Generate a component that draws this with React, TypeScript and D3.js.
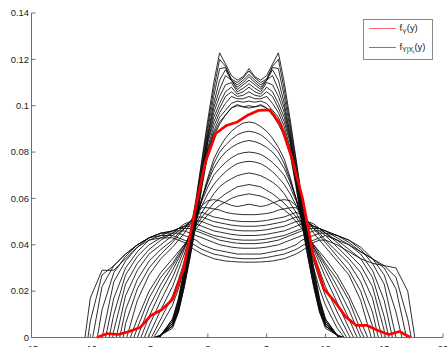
import React from "react";
import * as d3 from "d3";

const W = 448;
const H = 347;

// common abscissa grid for the conditional densities
const gridX = [-10, -9, -8, -7, -6, -5, -4, -3, -2.5, -2, -1.5, -1, -0.5, 0, 0.5, 1, 1.5, 2, 2.5, 3, 3.5, 4, 4.5, 5, 5.5, 6, 6.5, 7, 7.5, 8, 8.5, 9, 9.5, 10, 11, 12, 13, 14, 15, 16, 17];

// wide, bowl-shaped conditional densities
const bowlLo = [-10.45, -10.2, -9.8, -9.4, -9.0, -8.7, -8.4, -8.1, -7.8, -7.5, -7.2, -6.9];
const bowlHi = [17.6, 17.3, 16.9, 16.5, 16.0, 15.7, 15.4, 15.1, 14.8, 14.5, 14.2, 13.9];
const bowlCurves = [
  [.017,.029,.029,.034,.039,.042,.043,.043,.042,.041,.039,.0375,.036,.035,.034,.0335,.033,.0328,.0326,.0325,.0325,.0325,.0326,.0328,.033,.0335,.034,.035,.036,.0375,.039,.041,.042,.042,.040,.037,.034,.032,.031,.030,.020],
  [.007,.027,.031,.036,.040,.043,.044,.044,.043,.042,.041,.0395,.038,.037,.036,.0355,.035,.0345,.0342,.034,.034,.034,.0342,.0345,.035,.0355,.036,.037,.038,.0395,.041,.042,.043,.044,.042,.040,.037,.034,.031,.026,.008],
  [0,.022,.031,.036,.040,.043,.045,.045,.045,.044,.043,.042,.040,.039,.038,.0375,.037,.0365,.036,.036,.036,.036,.036,.0365,.037,.0375,.038,.039,.040,.042,.043,.044,.045,.045,.044,.041,.037,.034,.030,.021,0],
  [0,.012,.028,.035,.040,.043,.045,.046,.046,.046,.045,.044,.043,.042,.041,.040,.0395,.039,.0387,.0385,.0385,.0385,.0387,.039,.0395,.040,.041,.042,.043,.044,.045,.046,.046,.046,.044,.042,.039,.034,.027,.011,0],
  [0,0,.024,.033,.039,.043,.045,.046,.047,.047,.047,.046,.045,.044,.043,.042,.0415,.041,.0407,.0405,.0405,.0405,.0407,.041,.0415,.042,.043,.044,.045,.046,.047,.047,.047,.046,.044,.042,.038,.032,.023,0,0],
  [0,0,.017,.030,.037,.042,.044,.046,.047,.048,.048,.047,.046,.045,.044,.0435,.043,.0425,.0422,.042,.042,.042,.0422,.0425,.043,.0435,.044,.045,.046,.047,.048,.048,.047,.046,.043,.040,.036,.029,.016,0,0],
  [0,0,.010,.027,.035,.040,.043,.045,.047,.048,.049,.049,.048,.047,.046,.0455,.045,.0445,.0442,.044,.044,.044,.0442,.0445,.045,.0455,.046,.047,.048,.049,.049,.048,.047,.045,.042,.038,.034,.026,.009,0,0],
  [0,0,.003,.023,.032,.038,.042,.045,.047,.049,.050,.0505,.050,.049,.048,.0475,.047,.0465,.0462,.046,.046,.046,.0462,.0465,.047,.0475,.048,.049,.050,.0505,.050,.049,.047,.045,.041,.036,.031,.022,.003,0,0],
  [0,0,0,.018,.029,.036,.040,.044,.046,.048,.050,.052,.052,.051,.050,.0495,.049,.0485,.0482,.048,.048,.048,.0482,.0485,.049,.0495,.050,.051,.052,.052,.050,.048,.046,.044,.039,.034,.028,.017,0,0,0],
  [0,0,0,.012,.025,.033,.038,.042,.045,.047,.050,.053,.054,.053,.052,.0515,.051,.0505,.0502,.050,.050,.050,.0502,.0505,.051,.0515,.052,.053,.054,.053,.050,.047,.045,.042,.037,.032,.024,.011,0,0,0],
  [0,0,0,.006,.021,.030,.036,.041,.044,.047,.050,.054,.056,.056,.0555,.055,.054,.0535,.0532,.053,.053,.053,.0532,.0535,.054,.055,.0555,.056,.056,.054,.050,.047,.044,.041,.035,.029,.020,.005,0,0,0],
  [0,0,0,0,.016,.027,.034,.039,.042,.045,.049,.054,.057,.059,.0595,.059,.058,.057,.0565,.057,.0575,.057,.0565,.057,.058,.059,.0595,.059,.057,.054,.049,.045,.042,.039,.033,.027,.016,0,0,0,0],
];

// single-hump conditional densities
const humpLo = [-6.6, -6.3, -6.0, -5.7, -5.4, -5.1, -4.8, -4.6];
const humpHi = [13.6, 13.3, 13.0, 12.7, 12.4, 12.1, 11.8, 11.6];
const humpCurves = [
  [0,0,0,0,.008,.020,.028,.034,.037,.040,.043,.047,.050,.053,.055,.057,.0585,.060,.061,.0615,.062,.0615,.061,.060,.0585,.057,.055,.053,.050,.047,.043,.040,.037,.034,.027,.018,.007,0,0,0,0],
  [0,0,0,0,.004,.017,.026,.032,.036,.040,.044,.048,.052,.055,.058,.060,.062,.0635,.065,.0655,.066,.0655,.065,.0635,.062,.060,.058,.055,.052,.048,.044,.040,.036,.032,.025,.016,.003,0,0,0,0],
  [0,0,0,0,0,.013,.023,.031,.035,.039,.044,.049,.054,.058,.062,.065,.067,.0685,.0698,.0705,.071,.0705,.0698,.0685,.067,.065,.062,.058,.054,.049,.044,.039,.035,.031,.022,.012,0,0,0,0,0],
  [0,0,0,0,0,.009,.020,.029,.034,.039,.045,.051,.057,.062,.066,.069,.0715,.0735,.075,.0757,.076,.0757,.075,.0735,.0715,.069,.066,.062,.057,.051,.045,.039,.034,.029,.019,.008,0,0,0,0,0],
  [0,0,0,0,0,.005,.016,.026,.032,.038,.045,.052,.059,.065,.070,.073,.0755,.0775,.079,.0797,.080,.0797,.079,.0775,.0755,.073,.070,.065,.059,.052,.045,.038,.032,.026,.015,.004,0,0,0,0,0],
  [0,0,0,0,0,.001,.012,.022,.029,.036,.044,.052,.060,.067,.073,.077,.080,.082,.0835,.0845,.085,.0845,.0835,.082,.080,.077,.073,.067,.060,.052,.044,.036,.029,.022,.011,.001,0,0,0,0,0],
  [0,0,0,0,0,0,.008,.018,.025,.033,.042,.051,.060,.068,.075,.080,.083,.0855,.0875,.0885,.089,.0885,.0875,.0855,.083,.080,.075,.068,.060,.051,.042,.033,.025,.018,.007,0,0,0,0,0,0],
  [0,0,0,0,0,0,.005,.014,.021,.030,.040,.050,.060,.069,.077,.082,.086,.089,.091,.0925,.093,.0925,.091,.089,.086,.082,.077,.069,.060,.050,.040,.030,.021,.014,.004,0,0,0,0,0,0],
];

// narrow, multi-peaked conditional densities
const peakLo = [-4.6, -4.55, -4.5, -4.45, -4.4, -4.35, -4.3, -4.25, -4.2, -4.15, -4.1, -4.05];
const peakHi = [11.6, 11.55, 11.5, 11.45, 11.4, 11.35, 11.3, 11.25, 11.2, 11.15, 11.1, 11.05];
const peakCurves = [
  [0,0,0,0,0,0,.001,.008,.017,.030,.045,.060,.077,.094,.110,.1228,.118,.113,.111,.1125,.116,.1125,.111,.113,.118,.1228,.110,.094,.077,.060,.045,.030,.017,.008,.001,0,0,0,0,0,0],
  [0,0,0,0,0,0,.001,.008,.016,.029,.044,.059,.076,.092,.107,.120,.117,.1115,.110,.112,.115,.112,.110,.1115,.117,.120,.107,.092,.076,.059,.044,.029,.016,.008,.001,0,0,0,0,0,0],
  [0,0,0,0,0,0,.001,.007,.016,.028,.043,.058,.074,.090,.104,.116,.1165,.111,.109,.111,.1135,.111,.109,.111,.1165,.116,.104,.090,.074,.058,.043,.028,.016,.007,.001,0,0,0,0,0,0],
  [0,0,0,0,0,0,.001,.007,.015,.027,.042,.057,.073,.088,.101,.111,.1155,.111,.108,.110,.1125,.110,.108,.111,.1155,.111,.101,.088,.073,.057,.042,.027,.015,.007,.001,0,0,0,0,0,0],
  [0,0,0,0,0,0,.001,.006,.014,.026,.041,.056,.072,.087,.099,.107,.113,.111,.107,.109,.111,.109,.107,.111,.113,.107,.099,.087,.072,.056,.041,.026,.014,.006,.001,0,0,0,0,0,0],
  [0,0,0,0,0,0,.001,.006,.014,.026,.040,.055,.071,.086,.097,.104,.109,.110,.106,.1075,.1095,.1075,.106,.110,.109,.104,.097,.086,.071,.055,.040,.026,.014,.006,.001,0,0,0,0,0,0],
  [0,0,0,0,0,0,.001,.006,.013,.025,.039,.054,.070,.085,.095,.101,.106,.108,.105,.106,.108,.106,.105,.108,.106,.101,.095,.085,.070,.054,.039,.025,.013,.006,.001,0,0,0,0,0,0],
  [0,0,0,0,0,0,.001,.005,.013,.024,.038,.053,.069,.084,.093,.099,.104,.106,.104,.1045,.106,.1045,.104,.106,.104,.099,.093,.084,.069,.053,.038,.024,.013,.005,.001,0,0,0,0,0,0],
  [0,0,0,0,0,0,.001,.005,.012,.024,.037,.052,.068,.082,.091,.097,.101,.104,.103,.103,.104,.103,.103,.104,.101,.097,.091,.082,.068,.052,.037,.024,.012,.005,.001,0,0,0,0,0,0],
  [0,0,0,0,0,0,.001,.005,.012,.023,.036,.051,.067,.081,.089,.095,.098,.101,.102,.1015,.102,.1015,.102,.101,.098,.095,.089,.081,.067,.051,.036,.023,.012,.005,.001,0,0,0,0,0,0],
  [0,0,0,0,0,0,.001,.005,.011,.022,.035,.050,.066,.080,.088,.093,.096,.099,.100,.0995,.100,.0995,.100,.099,.096,.093,.088,.080,.066,.050,.035,.022,.011,.005,.001,0,0,0,0,0,0],
  [0,0,0,0,0,0,.001,.004,.011,.022,.035,.049,.065,.079,.087,.092,.096,.099,.1005,.0995,.099,.0995,.1005,.099,.096,.092,.087,.079,.065,.049,.035,.022,.011,.004,.001,0,0,0,0,0,0],
];

// marginal density f_Y(y)
const redX = [-9.45, -8.53, -7.61, -6.69, -5.77, -4.85, -3.93, -3.01, -2.09, -1.17, -0.25, 0.67, 1.59, 2.51, 3.43, 4.35, 5.27, 6.19, 7.11, 8.03, 8.95, 9.87, 10.79, 11.71, 12.63, 13.55, 14.47, 15.39, 16.31, 17.23];
const redY = [0, .0017, .0013, .0026, .0043, .0095, .012, .0164, .029, .053, .075, .088, .0915, .093, .096, .098, .0982, .092, .078, .0605, .036, .021, .0155, .009, .0052, .0052, .003, .0013, .0026, 0];

const xTicks = [-15, -10, -5, 0, 5, 10, 15, 20];
const yTicks = [0, 0.02, 0.04, 0.06, 0.08, 0.1, 0.12, 0.14];
const yTickLabels = ["0", "0.02", "0.04", "0.06", "0.08", "0.1", "0.12", "0.14"];

const x = d3.scaleLinear().domain([-15, 20]).range([31.5, 443]);
const y = d3.scaleLinear().domain([0, 0.14]).range([337.5, 13]);
const line = d3.line<[number, number]>().x((d) => x(d[0])).y((d) => y(d[1]));

function curvePoints(lo: number, hi: number, vals: number[]): [number, number][] {
  const pts: [number, number][] = [[lo, 0]];
  gridX.forEach((gx, i) => {
    if (gx > lo && gx < hi) pts.push([gx, vals[i]]);
  });
  pts.push([hi, 0]);
  return pts;
}

export default function App() {
  const curves: [number, number][][] = [];
  bowlCurves.forEach((v, i) => curves.push(curvePoints(bowlLo[i], bowlHi[i], v)));
  humpCurves.forEach((v, i) => curves.push(curvePoints(humpLo[i], humpHi[i], v)));
  peakCurves.forEach((v, i) => curves.push(curvePoints(peakLo[i], peakHi[i], v)));
  const red: [number, number][] = redX.map((vx, i) => [vx, redY[i]]);
  const font = "'Liberation Sans', Arial, Helvetica, sans-serif";
  const axisColor = "#6e6e6e";
  const textColor = "#1a1a1a";

  return (
    <svg width={W} height={H} style={{ position: "absolute", left: 0, top: 0, background: "#fff" }} fontFamily={font}>
      <rect x={0} y={0} width={W} height={H} fill="#fff" />
      <g fill="none" stroke="#0a0a0a" strokeWidth={0.85} strokeLinejoin="round">
        {curves.map((c, i) => (
          <path key={i} d={line(c) || ""} />
        ))}
      </g>
      <path d={line(red) || ""} fill="none" stroke="#ff0000" strokeWidth={2.7} strokeLinejoin="round" />

      {/* axes */}
      <line x1={31.5} y1={13} x2={31.5} y2={337.5} stroke={axisColor} strokeWidth={1} />
      <line x1={31.5} y1={337.5} x2={443} y2={337.5} stroke={axisColor} strokeWidth={1} />
      {yTicks.map((t, i) => (
        <g key={"y" + i}>
          <line x1={31.5} x2={35.5} y1={y(t)} y2={y(t)} stroke={axisColor} strokeWidth={1} />
          <text x={29} y={y(t)} dy="0.35em" textAnchor="end" fontSize={9.4} fill={textColor}>
            {yTickLabels[i]}
          </text>
        </g>
      ))}
      {xTicks.map((t, i) => (
        <g key={"x" + i}>
          <line x1={x(t)} x2={x(t)} y1={337.5} y2={333.5} stroke={axisColor} strokeWidth={1} />
          <text x={x(t)} y={351.5} textAnchor="middle" fontSize={9.4} fill={textColor}>
            {String(t)}
          </text>
        </g>
      ))}

      {/* legend */}
      <rect x={363.5} y={19.5} width={69} height={40} fill="#fff" stroke="#8a8a8a" strokeWidth={1} />
      <line x1={369} x2={396} y1={28.5} y2={28.5} stroke="#ff0000" strokeWidth={0.8} strokeOpacity={0.75} />
      <text x={399.5} y={31} fontSize={9.4} fill={textColor}>
        f<tspan fontSize={7} dy={2.5}>Y</tspan>
        <tspan dy={-2.5}>(y)</tspan>
      </text>
      <line x1={369} x2={396} y1={47.5} y2={47.5} stroke="#333" strokeWidth={0.8} strokeOpacity={0.8} />
      <text x={399.5} y={49.5} fontSize={9.4} fill={textColor}>
        f<tspan fontSize={7} dy={2.5}>Y|X</tspan>
        <tspan fontSize={5} dy={2}>i</tspan>
        <tspan dy={-4.5}>(y)</tspan>
      </text>
    </svg>
  );
}
